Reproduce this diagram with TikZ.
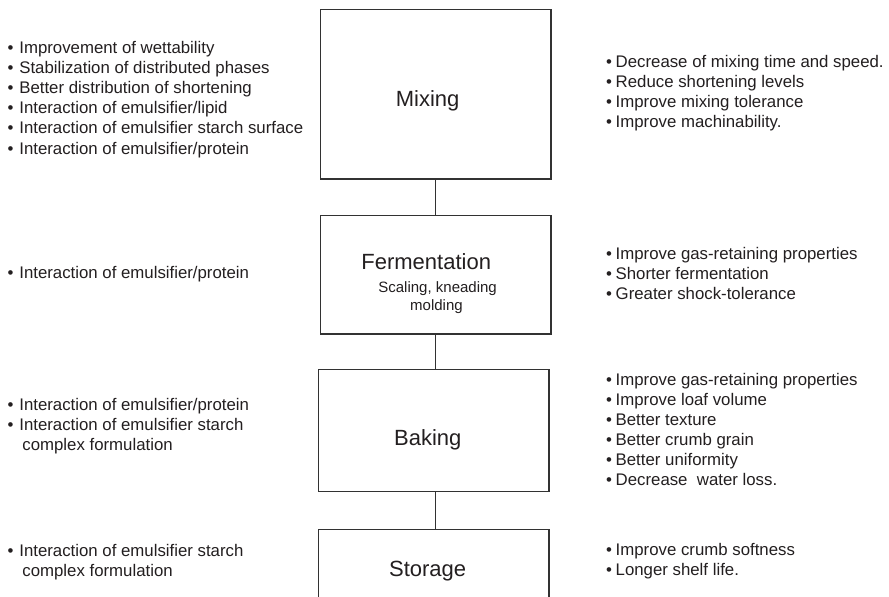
\documentclass[tikz,border=0pt]{standalone}
\usepackage{fontspec}
\setmainfont{Liberation Sans}
\definecolor{ink}{RGB}{35,31,32}
\definecolor{edge}{RGB}{50,50,50}
\newcommand\lb{\makebox[11.8pt][l]{•}}
\newcommand\rb{\makebox[9.5pt][l]{•}}
\begin{document}
\begin{tikzpicture}[x=1pt,y=-1pt,
  box/.style={draw=edge,line width=1.2pt,rectangle,inner sep=0pt},
  conn/.style={draw=edge,line width=1.2pt},
  item/.style={anchor=base west,inner sep=0pt,text=ink,font=\fontsize{16.8}{20}\selectfont},
  title/.style={anchor=base west,inner sep=0pt,text=ink,font=\fontsize{22}{26}\selectfont},
  sub/.style={anchor=base west,inner sep=0pt,text=ink,font=\fontsize{15}{18}\selectfont}]
\useasboundingbox[fill=white] (0,0) rectangle (889,597);
% boxes
\node[box,minimum width=230.3pt,minimum height=169.7pt] (mix) at (435.85,94.15) {};
\node[box,minimum width=230.3pt,minimum height=118.3pt] (fer) at (435.85,274.85) {};
\node[box,minimum width=230.7pt,minimum height=122pt] (bak) at (433.65,430.7) {};
\begin{scope}
\clip (0,0) rectangle (889,597);
\node[box,minimum width=230.7pt,minimum height=120pt] (sto) at (433.65,589.3) {};
\end{scope}
% connectors
\draw[conn] (mix.south) -- (fer.north);
\draw[conn] (fer.south) -- (fer.south |- bak.north);
\draw[conn] (bak.south -| mix.south) -- (mix.south |- sto.north);
% box labels
\node[title] (tmix) at (395.7,106) {Mixing};
\node[title] (tfer) at (361.2,269) {Fermentation};
\node[sub] (tfer1) at (378.2,292.7) {Scaling, kneading};
\node[sub] (tfer2) at (410,310) {molding};
\node[title] (tbak) at (393.9,445) {Baking};
\node[title] (tsto) at (388.9,576) {Storage};
% left: mixing
\node[item] (lm1) at (7.35,53.5) {\lb Improvement of wettability};
\node[item] (lm2) at (7.35,73.6) {\lb Stabilization of distributed phases};
\node[item] (lm3) at (7.35,93.7) {\lb Better distribution of shortening};
\node[item] (lm4) at (7.35,113.8) {\lb Interaction of emulsifier/lipid};
\node[item] (lm5) at (7.35,133.9) {\lb Interaction of emulsifier starch surface};
\node[item] (lm6) at (7.35,154) {\lb Interaction of emulsifier/protein};
% right: mixing
\node[item] (rm1) at (606,67.7) {\rb Decrease of mixing time and speed.};
\node[item] (rm2) at (606,87.7) {\rb Reduce shortening levels};
\node[item] (rm3) at (606,107.7) {\rb Improve mixing tolerance};
\node[item] (rm4) at (606,127.7) {\rb Improve machinability.};
% left: fermentation
\node[item] (lf1) at (7.35,278.3) {\lb Interaction of emulsifier/protein};
% right: fermentation
\node[item] (rf1) at (606,259.3) {\rb Improve gas-retaining properties};
\node[item] (rf2) at (606,279.3) {\rb Shorter fermentation};
\node[item] (rf3) at (606,299.3) {\rb Greater shock-tolerance};
% left: baking
\node[item] (lb1) at (7.35,410) {\lb Interaction of emulsifier/protein};
\node[item] (lb2) at (7.35,430) {\lb Interaction of emulsifier starch};
\node[item] (lb3) at (22.2,450) {complex formulation};
% right: baking
\node[item] (rb1) at (606,385) {\rb Improve gas-retaining properties};
\node[item] (rb2) at (606,405) {\rb Improve loaf volume};
\node[item] (rb3) at (606,425) {\rb Better texture};
\node[item] (rb4) at (606,445) {\rb Better crumb grain};
\node[item] (rb5) at (606,465) {\rb Better uniformity};
\node[item] (rb6) at (606,485) {\rb Decrease~ water loss.};
% left: storage
\node[item] (ls1) at (7.35,556) {\lb Interaction of emulsifier starch};
\node[item] (ls2) at (22.2,576) {complex formulation};
% right: storage
\node[item] (rs1) at (606,555) {\rb Improve crumb softness};
\node[item] (rs2) at (606,575) {\rb Longer shelf life.};
\end{tikzpicture}
\end{document}
